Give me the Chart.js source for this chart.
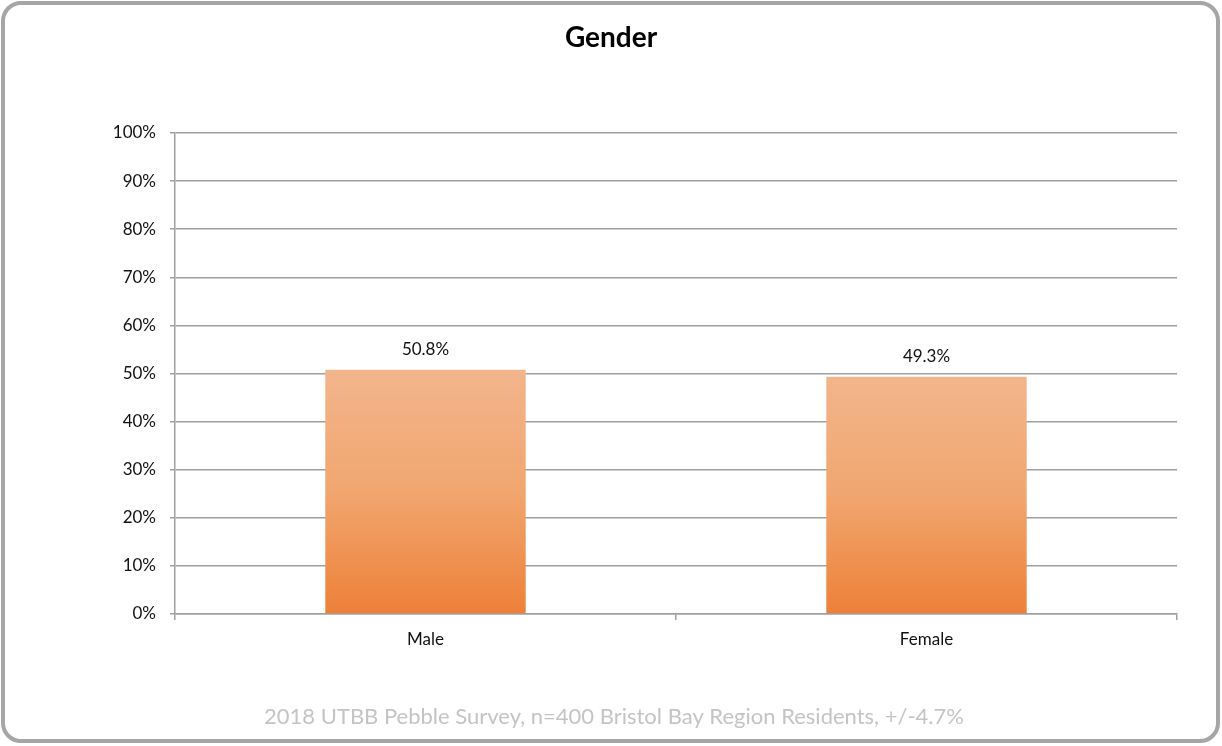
<!DOCTYPE html>
<html>
<head>
<meta charset="utf-8">
<script src="https://cdn.jsdelivr.net/npm/chart.js@4/dist/chart.umd.min.js"></script>
<style>
  html, body { margin: 0; padding: 0; background: #fff; }
  #wrap { position: relative; width: 1222px; height: 746px; }
  #frame { position: absolute; left: 1px; top: 1px; width: 1219px; height: 742px; box-sizing: border-box;
           border: 4px solid #a6a6a6; border-radius: 20px; pointer-events: none; }
</style>
</head>
<body>
<div id="wrap">
  <canvas id="c" width="1222" height="746"></canvas>
  <div id="frame"></div>
</div>
<script>
const chartTitle = 'Gender';
const footnote = '2018 UTBB Pebble Survey, n=400 Bristol Bay Region Residents, +/-4.7%';
const categories = ['Male', 'Female'];
const values = [50.8, 49.3];
const valueLabels = ['50.8%', '49.3%'];
const yTicks = [0, 10, 20, 30, 40, 50, 60, 70, 80, 90, 100];

const FONT = 'Lato, Calibri, Carlito, "Open Sans", sans-serif';

const textPlugin = {
  id: 'texts',
  afterDraw(chart) {
    const ctx = chart.ctx;
    ctx.save();
    ctx.textAlign = 'center';
    ctx.textBaseline = 'middle';
    ctx.fillStyle = '#000';
    ctx.font = 'bold 28px ' + FONT;
    ctx.fillText(chartTitle, 611, 38);
    ctx.fillStyle = '#c4c4c4';
    ctx.font = '22px ' + FONT;
    ctx.fillText(footnote, 614, 717);
    // value labels
    const meta = chart.getDatasetMeta(0);
    ctx.fillStyle = '#111';
    ctx.font = '17px ' + FONT;
    meta.data.forEach((bar, i) => {
      ctx.fillText(valueLabels[i], bar.x, bar.y - 20);
    });
    ctx.restore();
  }
};

function barGradient(context) {
  const chart = context.chart;
  const y = chart.scales.y;
  if (!y || context.parsed === undefined) return '#F0A46E';
  const top = y.getPixelForValue(context.parsed.y);
  const bottom = y.getPixelForValue(0);
  if (!isFinite(top) || !isFinite(bottom)) return '#F0A46E';
  const g = chart.ctx.createLinearGradient(0, top, 0, bottom);
  g.addColorStop(0, '#F2B58C');
  g.addColorStop(0.5, '#F1A66F');
  g.addColorStop(1, '#ED8038');
  return g;
}

new Chart(document.getElementById('c'), {
  type: 'bar',
  data: {
    labels: categories,
    datasets: [{
      data: values,
      backgroundColor: barGradient,
      borderWidth: 0,
      barPercentage: 0.4,
      categoryPercentage: 1.0
    }]
  },
  options: {
    responsive: false,
    animation: false,
    devicePixelRatio: 1,
    layout: { padding: { left: 0, right: 45, top: 133, bottom: 92 } },
    plugins: {
      legend: { display: false },
      title: { display: false },
      tooltip: { enabled: false }
    },
    scales: {
      x: {
        afterFit(scale) { scale.height = 40; },
        grid: { offset: true, drawOnChartArea: false, drawTicks: true, tickLength: 6, color: '#a0a0a0', lineWidth: 1.5 },
        border: { display: true, color: '#a0a0a0', width: 1.5 },
        ticks: { color: '#111', font: { family: FONT, size: 17 }, padding: 9 }
      },
      y: {
        min: 0, max: 100,
        afterFit(scale) { scale.width = 175; },
        afterBuildTicks(scale) { scale.ticks = yTicks.map(v => ({ value: v })); },
        grid: { color: '#a0a0a0', lineWidth: 1.5, tickLength: 5 },
        border: { display: true, color: '#a0a0a0', width: 1.5 },
        ticks: { color: '#111', font: { family: FONT, size: 17 }, padding: 14,
                 callback: v => v + '%' }
      }
    }
  },
  plugins: [textPlugin]
});
</script>
</body>
</html>
